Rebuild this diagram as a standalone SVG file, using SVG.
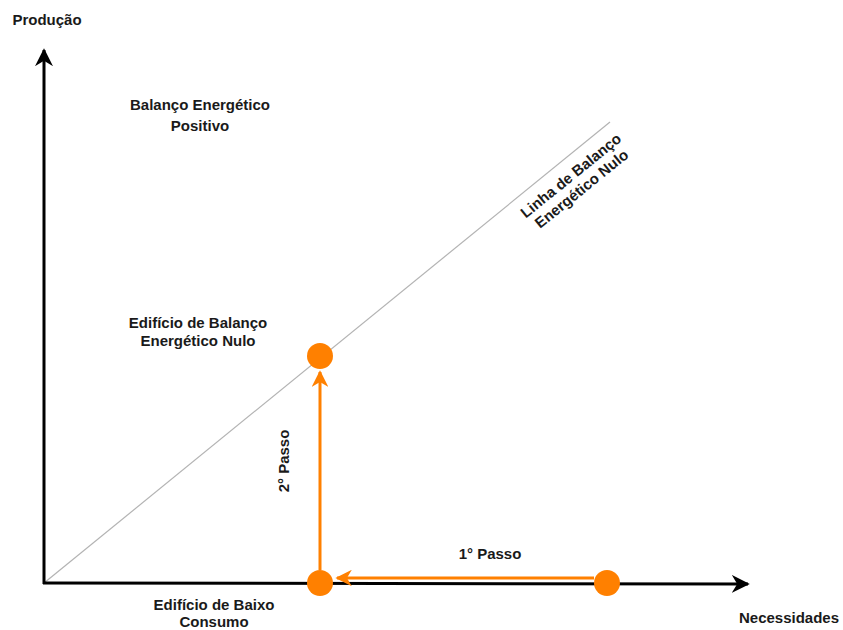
<svg xmlns="http://www.w3.org/2000/svg" width="843" height="630" viewBox="0 0 843 630">
<style>
text{font-family:"Liberation Sans",Arial,Helvetica,sans-serif;font-size:15px;font-weight:bold;fill:#1a1a1a;text-anchor:middle}
.axis{stroke:#000;stroke-width:3;fill:none}
.orange{stroke:#FF8000;stroke-width:3;fill:none}
.dot{fill:#FF8000}
</style>
<defs>
<marker id="ab" viewBox="0 0 10 10" refX="9" refY="5" markerWidth="6" markerHeight="6" markerUnits="strokeWidth" orient="auto">
<path d="M0,0 L10,5 L0,10 L3,5 Z" fill="#000"/>
</marker>
<marker id="ao" viewBox="0 0 10 10" refX="9" refY="5" markerWidth="5.5" markerHeight="5.5" markerUnits="strokeWidth" orient="auto">
<path d="M0,0 L10,5 L0,10 L3,5 Z" fill="#FF8000"/>
</marker>
</defs>
<g id="connectors">
<line x1="44" y1="583" x2="610" y2="122" stroke="#b3b3b3" stroke-width="1.2"/>
<line class="axis" x1="44" y1="584" x2="44" y2="50" marker-end="url(#ab)"/>
<line class="axis" x1="43" y1="583" x2="748" y2="584" marker-end="url(#ab)"/>
<line class="orange" x1="320" y1="570" x2="320" y2="372" marker-end="url(#ao)"/>
<line class="orange" x1="594" y1="578" x2="337" y2="578" marker-end="url(#ao)"/>
</g>
<g id="n-top"><circle class="dot" cx="320" cy="356" r="13"/></g>
<g id="n-low"><circle class="dot" cx="320" cy="583" r="13"/></g>
<g id="n-start"><circle class="dot" cx="607" cy="583" r="13"/></g>
<g id="labels">
<text x="47" y="25">Produção</text>
<text x="200" y="110">Balanço Energético</text>
<text x="200" y="131">Positivo</text>
<text transform="translate(576,182) rotate(-39)"><tspan x="0" y="-3">Linha de Balanço</tspan><tspan x="0" y="14">Energético Nulo</tspan></text>
<text x="198" y="328">Edifício de Balanço</text>
<text x="198" y="346">Energético Nulo</text>
<text transform="translate(289,461) rotate(-90)">2° Passo</text>
<text x="490" y="559">1° Passo</text>
<text x="214" y="610">Edifício de Baixo</text>
<text x="214" y="627">Consumo</text>
<text x="789" y="623">Necessidades</text>
</g>
</svg>
